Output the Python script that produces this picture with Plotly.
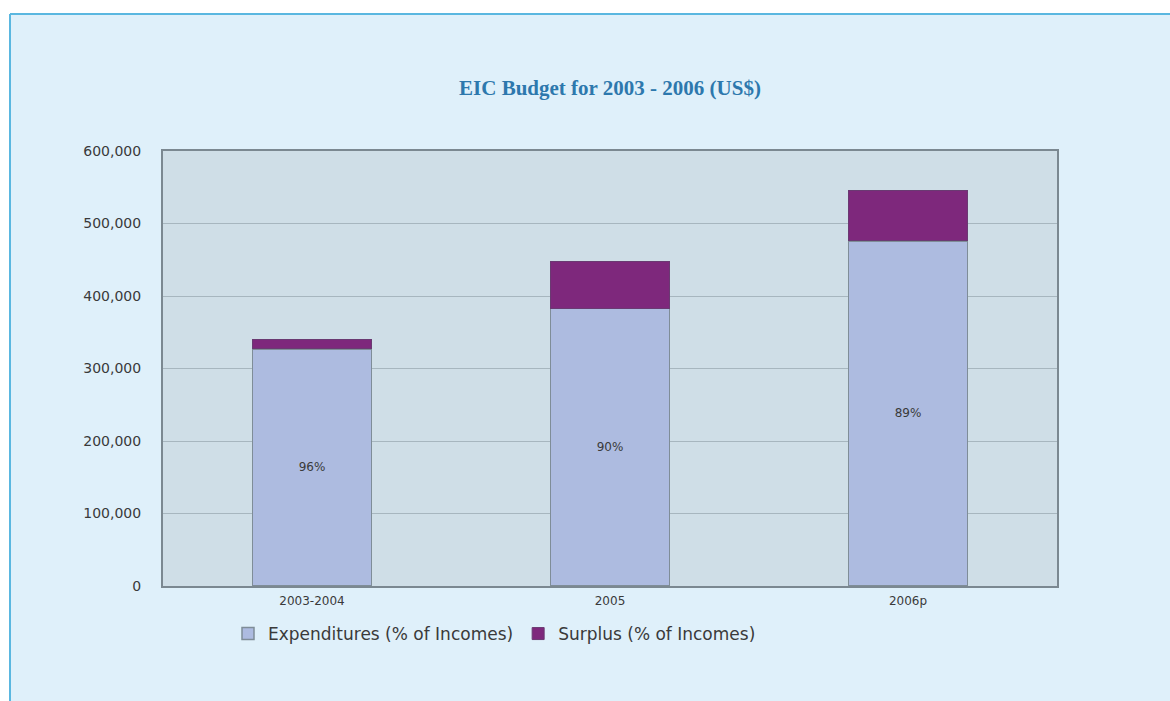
import plotly.graph_objects as go

categories = ["2003-2004", "2005", "2006p"]
expenditures = [327000, 383000, 476000]
surplus = [13000, 65000, 70000]
pct_labels = ["96%", "90%", "89%"]
y_ticks = [0, 100000, 200000, 300000, 400000, 500000, 600000]
y_tick_text = ["0", "100,000", "200,000", "300,000", "400,000", "500,000", "600,000"]

W, H = 1170, 701
L, R, T, B = 163, 113, 151, 115
pw, ph = W - L - R, H - T - B

def px(x):
    return (x - L) / pw

def py(y):
    return (H - B - y) / ph

FONT = "DejaVu Sans"
TXT = "#3a3a3a"

fig = go.Figure()
fig.add_trace(go.Bar(
    x=categories, y=expenditures, name="Expenditures (% of Incomes)",
    marker=dict(color="#adbbe0", line=dict(color="#7f8d98", width=1.5)),
    text=pct_labels, textposition="inside", insidetextanchor="middle",
    textangle=0, textfont=dict(size=12, color=TXT, family=FONT),
    hoverinfo="skip",
))
fig.add_trace(go.Bar(
    x=categories, y=surplus, name="Surplus (% of Incomes)",
    marker=dict(color="#7e287c", line=dict(color="#6a3a72", width=1)),
    hoverinfo="skip",
))

# white margins outside the light blue panel + its border
fig.add_shape(type="rect", xref="paper", yref="paper",
              x0=px(-20), x1=px(1200), y0=py(14), y1=py(-20),
              fillcolor="white", line=dict(width=0), layer="below")
fig.add_shape(type="rect", xref="paper", yref="paper",
              x0=px(-20), x1=px(10), y0=py(730), y1=py(-20),
              fillcolor="white", line=dict(width=0), layer="below")
fig.add_shape(type="line", xref="paper", yref="paper",
              x0=px(10), x1=px(1200), y0=py(14), y1=py(14),
              line=dict(color="#5ab7e0", width=2), layer="below")
fig.add_shape(type="line", xref="paper", yref="paper",
              x0=px(10), x1=px(10), y0=py(14), y1=py(730),
              line=dict(color="#5ab7e0", width=2), layer="below")

fig.update_layout(
    width=W, height=H,
    margin=dict(l=L, r=R, t=T, b=B),
    paper_bgcolor="#dff0fa",
    plot_bgcolor="#cfdee7",
    barmode="stack",
    bargap=0.6,
    title=dict(text="<b>EIC Budget for 2003 - 2006 (US$)</b>",
               x=0.5, xref="paper", xanchor="center",
               y=1 - 88 / H, yanchor="middle",
               font=dict(family="Liberation Serif", size=21, color="#2d78ad")),
    showlegend=True,
    legend=dict(orientation="h", x=px(228), xanchor="left",
                y=py(634), yanchor="middle",
                font=dict(family=FONT, size=17, color=TXT),
                bgcolor="rgba(0,0,0,0)", traceorder="normal",
                itemwidth=30),
    font=dict(family=FONT, color=TXT),
)
fig.update_xaxes(
    showline=True, linecolor="#7b8891", linewidth=2, mirror=True,
    ticks="", tickfont=dict(size=12, color=TXT, family=FONT),
    showgrid=False, ticklabelstandoff=3,
)
fig.update_yaxes(
    range=[0, 600000], tickvals=y_ticks, ticktext=y_tick_text,
    showline=True, linecolor="#7b8891", linewidth=2, mirror=True,
    gridcolor="#a7b6bf", gridwidth=1, zeroline=False,
    tickfont=dict(size=14, color=TXT, family=FONT), ticks="", ticklabelstandoff=17,
)

fig.write_html("out.html")
